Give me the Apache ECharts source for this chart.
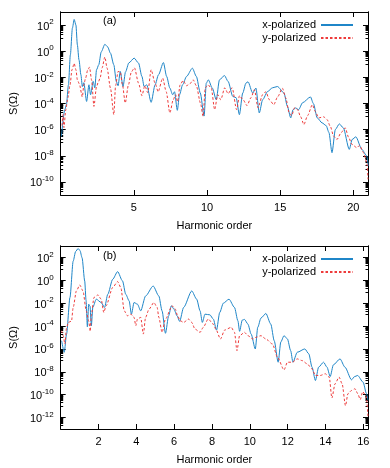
<!DOCTYPE html>
<html>
<head>
<meta charset="utf-8">
<script src="https://cdn.jsdelivr.net/npm/echarts@6/dist/echarts.min.js"></script>
<style>
html, body { margin: 0; padding: 0; background: #fff; }
#container { width: 390px; height: 468px; }
</style>
</head>
<body>
<div id="container"></div>
<script>
// each point: [harmonic order, log10 S(Ω)]
var xPolA = [
    [0.05,-6.52],[0.28,-4.47],[0.39,-4.09],[0.53,-2.57],[0.66,-0.28],[0.80,1.77],[0.92,2.43],[1.04,2.0],
    [1.14,0.48],[1.25,-0.66],[1.38,-1.8],[1.48,-2.7],[1.58,-2.41],[1.77,-3.84],[1.93,-2.57],[2.04,-3.33],
    [2.22,-2.31],[2.33,-2.8],[2.45,-1.42],[2.6,-1.04],[2.77,-0.05],[3.02,0.53],[3.21,0.33],[3.4,-0.15],
    [3.63,-1.04],[3.8,-2.31],[3.92,-2.64],[4.07,-1.55],[4.26,-2.7],[4.43,-1.58],[4.66,-0.89],[5.02,-0.53],
    [5.32,-0.91],[5.55,-1.93],[5.7,-2.7],[5.88,-2.57],[6.18,-3.91],[6.45,-2.57],[6.68,-1.81],[7.02,-0.87],
    [7.24,-1.93],[7.46,-2.82],[7.65,-3.33],[7.78,-3.1],[7.97,-4.52],[8.12,-3.33],[8.33,-2.57],[8.6,-1.93],
    [9.0,-1.3],[9.27,-1.93],[9.54,-3.2],[9.8,-4.96],[9.95,-2.44],[10.09,-2.19],[10.36,-2.82],[10.63,-3.71],
    [10.85,-2.19],[11.19,-1.86],[11.44,-2.31],[11.76,-3.46],[11.99,-3.56],[12.21,-4.85],[12.44,-3.2],[12.66,-2.44],
    [12.8,-2.34],[13.12,-3.2],[13.34,-2.82],[13.57,-4.72],[13.8,-3.71],[14.14,-3.08],[14.47,-2.8],[14.81,-2.7],
    [15.26,-3.2],[15.49,-4.22],[15.72,-5.1],[15.88,-4.47],[16.05,-4.34],[16.26,-4.47],[16.53,-3.94],[17.07,-3.5],
    [17.27,-4.01],[17.53,-5.1],[17.86,-5.48],[18.14,-5.69],[18.33,-6.22],[18.54,-7.76],[18.77,-5.99],[19.04,-5.56],
    [19.31,-5.86],[19.72,-7.51],[19.92,-6.75],[20.17,-6.55],[20.58,-7.51],[20.92,-8.02],[21.02,-8.78]
];
var yPolA = [
    [0.09,-5.69],[0.16,-4.85],[0.22,-5.84],[0.35,-4.47],[0.49,-3.56],[0.64,-2.57],[0.77,-1.42],[0.92,-0.93],
    [1.04,-1.42],[1.14,-2.19],[1.27,-2.49],[1.48,-3.5],[1.58,-2.57],[1.7,-2.06],[1.85,-1.42],[1.97,-1.22],
    [2.11,-2.19],[2.27,-4.22],[2.45,-2.7],[2.58,-2.34],[2.7,-2.03],[2.83,-1.27],[3.02,-0.44],[3.17,-1.3],
    [3.4,-2.82],[3.63,-4.85],[3.75,-2.64],[3.92,-1.55],[4.07,-1.58],[4.22,-2.57],[4.41,-3.96],[4.63,-2.57],
    [4.83,-1.58],[5.04,-1.27],[5.32,-2.44],[5.55,-3.4],[5.75,-2.64],[5.95,-3.17],[6.18,-1.42],[6.45,-2.44],
    [6.66,-3.1],[6.97,-2.06],[7.21,-3.1],[7.46,-4.72],[7.69,-3.71],[7.85,-3.33],[7.99,-3.86],[8.16,-2.57],
    [8.37,-2.24],[8.6,-2.64],[8.83,-2.49],[9.05,-2.19],[9.27,-2.64],[9.55,-3.96],[9.73,-4.98],[9.88,-2.8],
    [10.07,-2.57],[10.29,-2.82],[10.52,-4.47],[10.73,-3.33],[10.94,-3.71],[11.21,-2.8],[11.44,-3.25],[11.72,-2.8],
    [12.02,-4.47],[12.22,-3.4],[12.46,-3.71],[12.73,-4.16],[13.0,-3.56],[13.24,-2.95],[13.48,-4.32],[13.8,-3.33],
    [14.02,-3.1],[14.26,-3.71],[14.56,-4.09],[14.83,-3.48],[15.15,-2.83],[15.38,-3.56],[15.61,-4.7],[15.78,-4.93],
    [15.99,-4.32],[16.19,-4.47],[16.39,-5.0],[16.62,-5.61],[16.87,-4.93],[17.2,-4.09],[17.4,-4.62],[17.63,-5.1],
    [17.97,-5.02],[18.2,-5.23],[18.43,-5.76],[18.65,-6.5],[18.88,-6.75],[19.17,-6.22],[19.44,-5.86],[19.68,-6.6],
    [19.9,-7.13],[20.24,-7.38],[20.43,-7.2],[20.69,-7.76],[20.92,-8.51],[21.0,-9.8]
];
var xPolB = [
    [0.05,-5.28],[0.19,-6.29],[0.31,-4.7],[0.49,-1.5],[0.66,1.68],[0.79,2.52],[0.92,2.78],[1.02,2.61],
    [1.13,1.97],[1.27,-0.06],[1.34,-1.74],[1.41,-4.06],[1.48,-2.09],[1.55,-2.26],[1.62,-3.97],[1.7,-2.35],
    [1.88,-1.65],[2.14,-1.94],[2.32,-2.37],[2.49,-1.22],[2.75,0.09],[3.01,0.76],[3.27,-0.06],[3.44,-1.22],
    [3.62,-1.8],[3.74,-2.96],[3.88,-1.94],[4.06,-2.09],[4.23,-2.67],[4.49,-1.37],[4.89,-0.5],[5.19,-1.37],
    [5.36,-2.67],[5.54,-4.63],[5.71,-3.1],[5.85,-2.23],[5.99,-2.52],[6.15,-3.1],[6.29,-3.59],[6.5,-2.37],
    [6.93,-0.93],[7.19,-1.65],[7.37,-2.67],[7.49,-3.68],[7.63,-2.96],[7.89,-3.02],[8.07,-3.39],[8.24,-4.35],
    [8.41,-2.81],[8.6,-2.0],[8.9,-1.65],[9.19,-2.37],[9.37,-3.54],[9.46,-4.46],[9.6,-3.48],[9.72,-3.42],
    [9.9,-3.83],[10.07,-4.7],[10.29,-6.0],[10.42,-4.11],[10.59,-3.3],[10.85,-2.9],[11.11,-3.83],[11.29,-5.28],
    [11.5,-7.16],[11.64,-5.39],[11.81,-4.84],[11.99,-5.13],[12.16,-6.15],[12.28,-7.16],[12.51,-6.29],[12.91,-6.0],
    [13.12,-6.43],[13.29,-7.59],[13.47,-8.76],[13.64,-7.59],[13.9,-7.16],[14.08,-7.59],[14.25,-8.41],[14.42,-7.39],
    [14.77,-6.87],[15.03,-7.59],[15.38,-8.7],[15.53,-8.43],[15.7,-8.32],[15.99,-8.9],[16.17,-9.91],[16.25,-10.5]
];
var yPolB = [
    [0.05,-4.41],[0.14,-4.87],[0.22,-5.57],[0.31,-4.17],[0.4,-3.68],[0.57,-3.57],[0.66,-2.37],[0.83,-0.93],
    [1.01,-0.41],[1.18,-0.93],[1.35,-2.67],[1.48,-3.54],[1.56,-4.46],[1.62,-3.04],[1.76,-1.5],[1.97,-1.28],
    [2.14,-1.65],[2.28,-2.81],[2.4,-2.23],[2.75,-0.63],[3.01,-0.11],[3.18,-0.63],[3.36,-2.67],[3.53,-3.1],
    [3.71,-2.96],[3.88,-3.24],[3.97,-3.97],[4.06,-3.39],[4.23,-3.24],[4.37,-4.7],[4.49,-3.24],[4.67,-2.52],
    [4.93,-1.94],[5.1,-2.37],[5.19,-3.24],[5.36,-4.55],[5.54,-3.39],[5.89,-2.23],[6.06,-2.52],[6.18,-3.1],
    [6.32,-3.54],[6.5,-3.68],[6.76,-3.39],[6.93,-3.68],[7.1,-4.26],[7.37,-4.55],[7.54,-4.11],[7.8,-3.39],
    [8.07,-3.83],[8.2,-4.26],[8.45,-5.13],[8.67,-4.35],[9.02,-4.11],[9.19,-4.55],[9.32,-6.15],[9.46,-4.84],
    [9.72,-4.55],[9.9,-4.84],[10.16,-5.13],[10.33,-4.98],[10.59,-4.84],[10.85,-5.13],[11.2,-5.57],[11.46,-6.72],
    [11.81,-7.83],[11.99,-7.16],[12.25,-7.16],[12.51,-6.87],[12.77,-7.02],[13.03,-7.3],[13.29,-7.74],[13.47,-8.32],
    [13.73,-8.32],[13.99,-8.17],[14.2,-8.46],[14.34,-10.29],[14.51,-9.04],[14.72,-8.46],[14.88,-9.04],[15.06,-10.96],
    [15.19,-9.91],[15.38,-9.63],[15.56,-9.48],[15.71,-9.91],[15.84,-10.43],[15.97,-9.74],[16.16,-10.17],[16.25,-11.94]
];

var xTicksA = [5, 10, 15, 20];
var xTicksB = [2, 4, 6, 8, 10, 12, 14, 16];
var yTicksA = [-10, -8, -6, -4, -2, 0, 2];
var yTicksB = [-12, -10, -8, -6, -4, -2, 0, 2];
var seriesNames = ['x-polarized', 'y-polarized'];
var panelLabels = ['(a)', '(b)'];
var xTitle = 'Harmonic order';
var yTitle = 'S(\u03a9)';

var BLUE = '#1f86c8';
var RED = '#ee3b3b';
var FONT = '"Liberation Sans", Arial, sans-serif';

// gnuplot style minor tics: 10,20,...,90 times each major step of 100
function minorTicks(majors, lo, hi) {
    var out = [];
    majors.concat([majors[0] - 2]).forEach(function (m) {
        for (var k = 1; k <= 9; k++) {
            var v = m + Math.log10(k * 10);
            if (v > lo && v < hi) out.push(v);
        }
    });
    return out;
}

function yAxes(gridIndex, ticks, lo, hi) {
    var minor = minorTicks(ticks, lo, hi);
    var base = {
        type: 'value', gridIndex: gridIndex, min: lo, max: hi,
        splitLine: { show: false },
        axisLine: { show: true, onZero: false, lineStyle: { color: '#000', width: 1 } }
    };
    var list = [];
    ['left', 'right'].forEach(function (pos) {
        list.push(Object.assign({}, base, {
            position: pos,
            name: pos === 'left' ? yTitle : '',
            nameLocation: 'middle', nameGap: 40, nameRotate: 90,
            nameTextStyle: { fontFamily: FONT, fontSize: 11, color: '#000' },
            axisTick: { inside: true, length: 5, customValues: ticks, lineStyle: { color: '#000' } },
            axisLabel: {
                show: pos === 'left', customValues: ticks, margin: 7,
                formatter: function (v) { return '{b|10}{s|' + v + '}'; },
                rich: {
                    b: { fontFamily: FONT, fontSize: 11, color: '#000', lineHeight: 14, verticalAlign: 'bottom' },
                    s: { fontFamily: FONT, fontSize: 8, color: '#000', lineHeight: 8, verticalAlign: 'top' }
                }
            }
        }));
        list.push(Object.assign({}, base, {
            position: pos,
            axisTick: { inside: true, length: 2.5, customValues: minor, lineStyle: { color: '#000' } },
            axisLabel: { show: false }
        }));
    });
    return list;
}

function xAxes(gridIndex, ticks, lo, hi) {
    return ['bottom', 'top'].map(function (pos) {
        return {
            type: 'value', gridIndex: gridIndex, min: lo, max: hi, position: pos,
            name: pos === 'bottom' ? xTitle : '',
            nameLocation: 'middle', nameGap: 25,
            nameTextStyle: { fontFamily: FONT, fontSize: 11, color: '#000' },
            splitLine: { show: false },
            axisLine: { show: true, onZero: false, lineStyle: { color: '#000', width: 1 } },
            axisTick: { inside: true, length: 5, customValues: ticks, lineStyle: { color: '#000' } },
            axisLabel: {
                show: pos === 'bottom', customValues: ticks, margin: 7,
                fontFamily: FONT, fontSize: 11, color: '#000'
            }
        };
    });
}

function lineSeries(name, data, xi, yi, color, dashed) {
    return {
        type: 'line', name: name, data: data,
        xAxisIndex: xi, yAxisIndex: yi,
        symbol: 'none', showSymbol: false,
        smooth: 0.25, smoothMonotone: 'x',
        clip: true,
        lineStyle: { color: color, width: 1, type: dashed ? [2.5, 2] : 'solid' },
        itemStyle: { color: color }
    };
}

function legendAt(top) {
    return {
        top: top, right: 31, orient: 'vertical', align: 'right',
        itemWidth: 32, itemHeight: 12, itemGap: 1,
        data: seriesNames,
        itemStyle: { opacity: 0 },
        textStyle: { fontFamily: FONT, fontSize: 11, color: '#000', lineHeight: 12 }
    };
}

var chart = echarts.init(document.getElementById('container'), null, { renderer: 'canvas' });

var option = {
    animation: false,
    backgroundColor: '#fff',
    grid: [
        { left: 58, right: 22, top: 12, height: 183 },
        { left: 58, right: 22, top: 246, height: 183 }
    ],
    xAxis: xAxes(0, xTicksA, 0, 21).concat(xAxes(1, xTicksB, 0, 16.25)),
    yAxis: yAxes(0, yTicksA, -11, 3).concat(yAxes(1, yTicksB, -13, 3)),
    legend: [legendAt(14), legendAt(248)],
    graphic: [
        { type: 'text', left: 103, top: 15, style: { text: panelLabels[0], font: '11px ' + FONT, fill: '#000' } },
        { type: 'text', left: 103, top: 250, style: { text: panelLabels[1], font: '11px ' + FONT, fill: '#000' } }
    ],
    series: [
        lineSeries(seriesNames[0], xPolA, 0, 0, BLUE, false),
        lineSeries(seriesNames[1], yPolA, 0, 0, RED, true),
        lineSeries(seriesNames[0], xPolB, 2, 4, BLUE, false),
        lineSeries(seriesNames[1], yPolB, 2, 4, RED, true)
    ]
};

chart.setOption(option);
</script>
</body>
</html>
